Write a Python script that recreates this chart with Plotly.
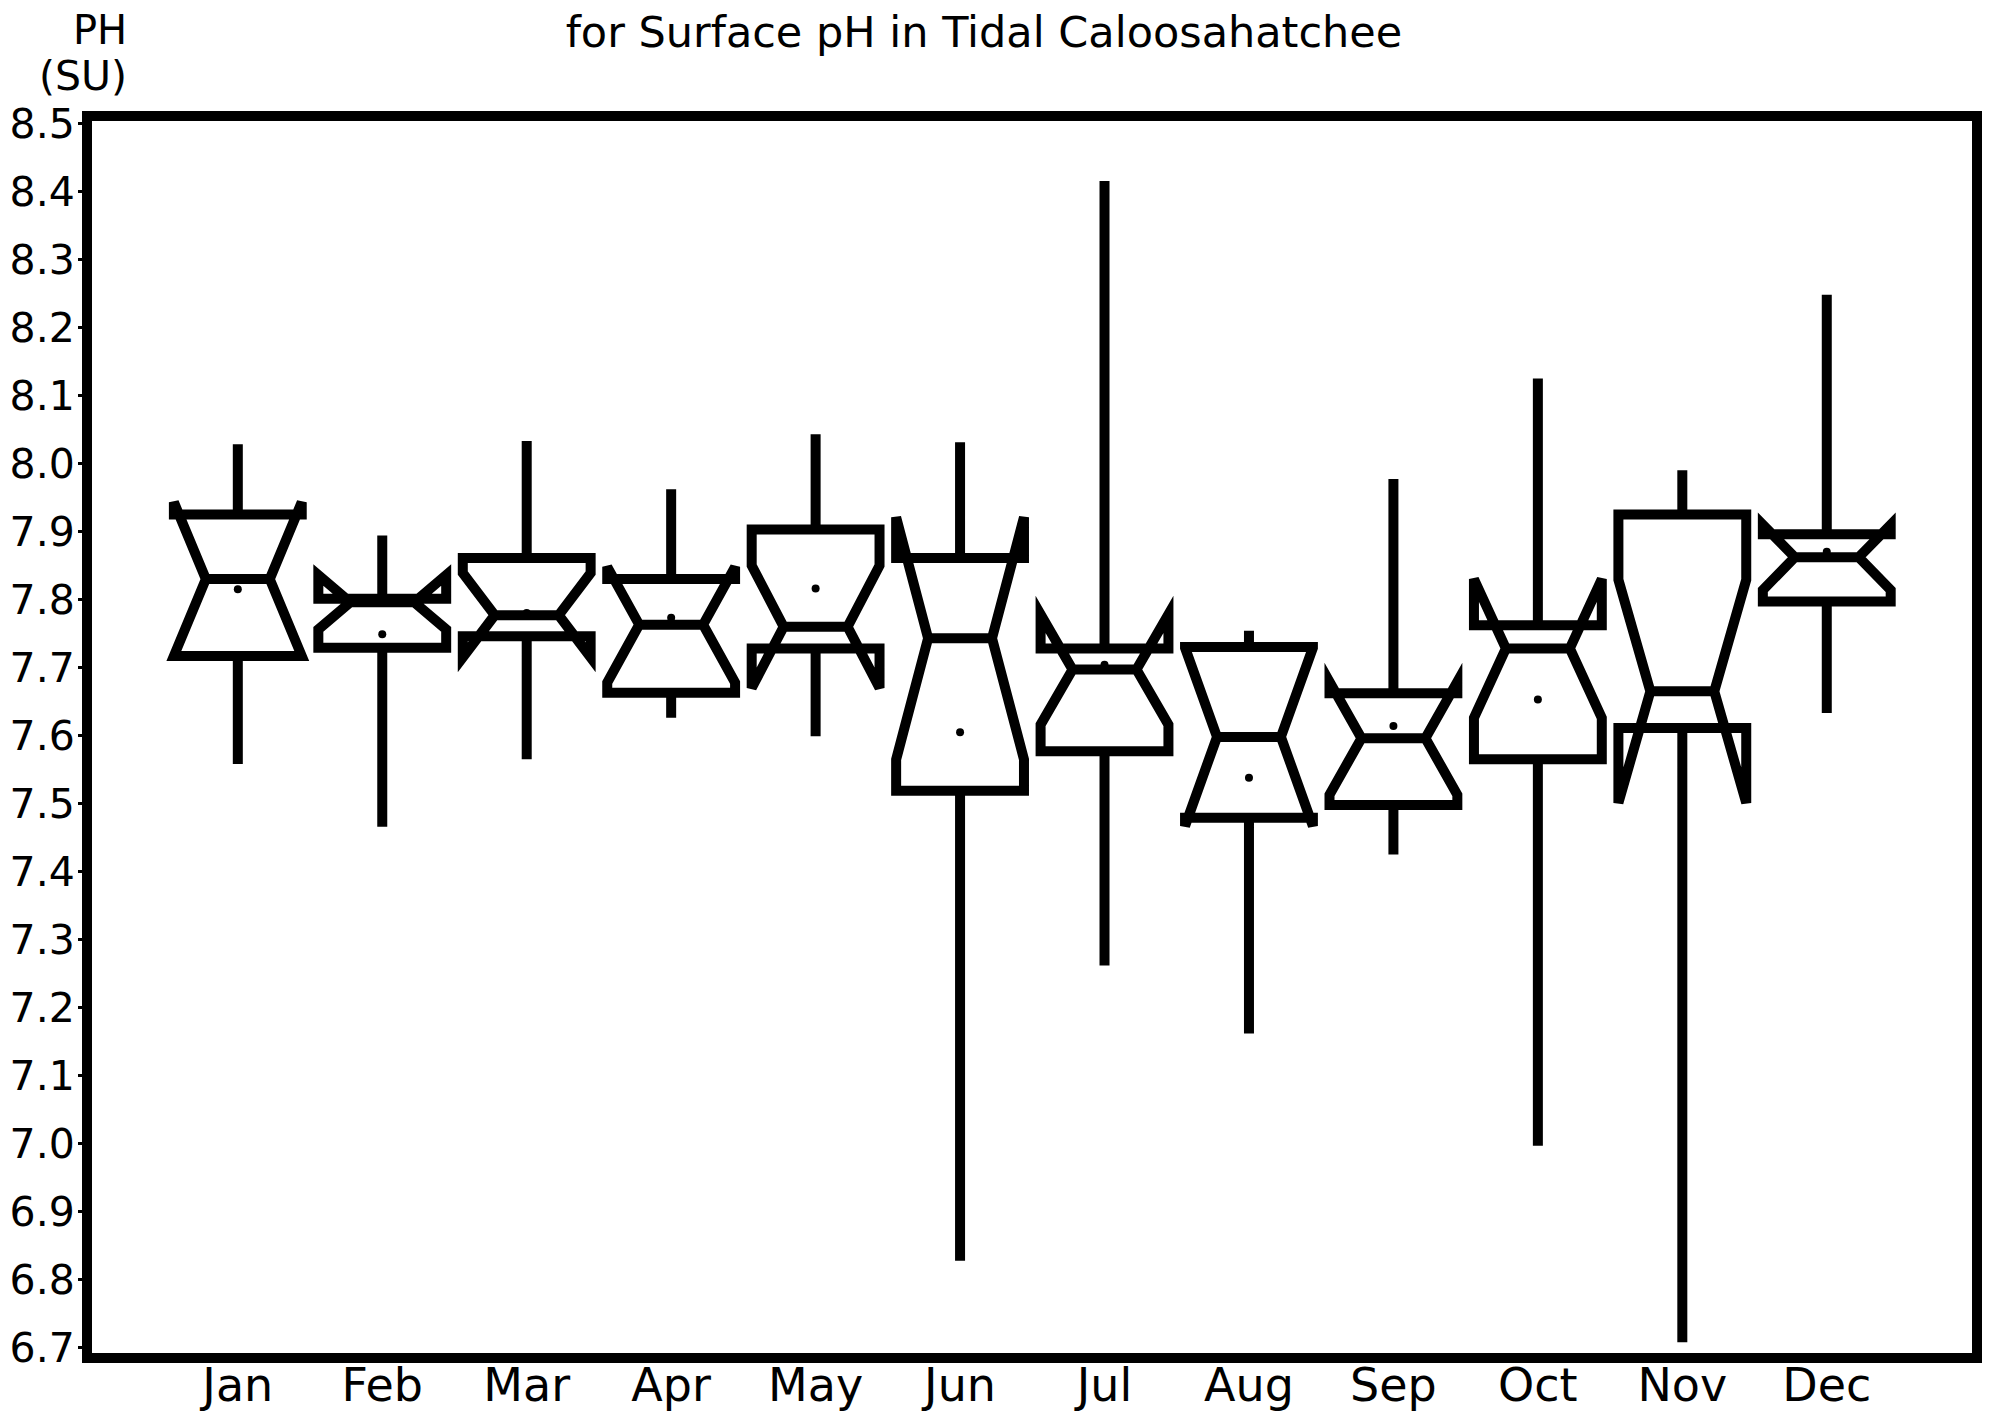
import plotly.graph_objects as go

months = ["Jan", "Feb", "Mar", "Apr", "May", "Jun", "Jul", "Aug", "Sep", "Oct", "Nov", "Dec"]
month_pos = [1, 2, 3, 4, 5, 6, 7, 8, 9, 10, 11, 12]

q1 = [7.717, 7.729, 7.746, 7.663, 7.728, 7.519, 7.577, 7.479, 7.498, 7.565, 7.611, 7.797]
median = [7.830, 7.796, 7.777, 7.763, 7.760, 7.743, 7.697, 7.598, 7.596, 7.728, 7.665, 7.862]
q3 = [7.925, 7.801, 7.861, 7.830, 7.903, 7.861, 7.728, 7.730, 7.662, 7.762, 7.925, 7.896]
notch_half = [0.113, 0.040, 0.062, 0.085, 0.090, 0.178, 0.081, 0.131, 0.083, 0.102, 0.164, 0.048]
whisker_low = [7.558, 7.466, 7.565, 7.626, 7.599, 6.828, 7.262, 7.162, 7.425, 6.997, 6.708, 7.633]
whisker_high = [8.028, 7.894, 8.033, 7.962, 8.043, 8.031, 8.415, 7.754, 7.977, 8.125, 7.990, 8.248]
mean = [7.815, 7.749, 7.780, 7.773, 7.816, 7.605, 7.704, 7.538, 7.614, 7.653, 7.664, 7.870]

y_ticks = [6.7, 6.8, 6.9, 7.0, 7.1, 7.2, 7.3, 7.4, 7.5, 7.6, 7.7, 7.8, 7.9, 8.0, 8.1, 8.2, 8.3, 8.4, 8.5]

FONT = "DejaVu Sans"
OFF = 8  # page body margin
W, H = 1994 - OFF, 1412 - OFF
ML, MT = 86.5 - OFF, 116 - OFF
MR = W - (1977 - OFF)
MB = H - (1358.5 - OFF)
PW, PH_ = W - ML - MR, H - MT - MB

fig = go.Figure()
fig.add_trace(go.Box(
    x=month_pos, q1=q1, median=median, q3=q3,
    lowerfence=whisker_low, upperfence=whisker_high,
    notchspan=notch_half, notched=True, notchwidth=0.25,
    width=0.885, whiskerwidth=0, boxpoints=False,
    line=dict(color="black", width=10), fillcolor="rgba(255,255,255,0)",
    showlegend=False, hoverinfo="skip",
))
fig.add_trace(go.Scatter(
    x=month_pos, y=mean, mode="markers",
    marker=dict(color="black", size=8), showlegend=False, hoverinfo="skip",
))

fig.update_layout(
    template="none",
    width=W, height=H,
    margin=dict(l=ML, r=MR, t=MT, b=MB, pad=0, autoexpand=False),
    paper_bgcolor="white", plot_bgcolor="white",
    font=dict(family=FONT, color="black"),
    title=dict(text="for Surface pH in Tidal Caloosahatchee", x=(984 - OFF) / W, xanchor="center",
               y=1 - (32 - OFF) / H, yanchor="middle", font=dict(size=43, family=FONT, color="black")),
    xaxis=dict(range=[-0.044, 13.04], tickvals=month_pos, ticktext=months, showgrid=False,
               zeroline=False, showline=False, ticks="", automargin=False, ticklabelstandoff=-4,
               tickfont=dict(size=46, family=FONT, color="black")),
    yaxis=dict(range=[6.685, 8.5107], tickvals=y_ticks, ticktext=[f"{v:.1f}" for v in y_ticks],
               showgrid=False, zeroline=False, showline=False, ticks="outside", ticklen=8,
               tickwidth=3, tickcolor="black", automargin=False, ticklabelstandoff=-5,
               tickfont=dict(size=41, family=FONT, color="black")),
    shapes=[dict(type="rect", xref="paper", yref="paper", x0=0, x1=1, y0=0, y1=1,
                 line=dict(color="black", width=10), layer="above")],
    annotations=[
        dict(text="PH", xref="paper", yref="paper", x=(129 - OFF - ML) / PW,
             y=(H - MB - (30 - OFF)) / PH_, xanchor="right", yanchor="middle",
             showarrow=False, font=dict(size=40, family=FONT, color="black")),
        dict(text="(SU)", xref="paper", yref="paper", x=(129 - OFF - ML) / PW,
             y=(H - MB - (76 - OFF)) / PH_, xanchor="right", yanchor="middle",
             showarrow=False, font=dict(size=41, family=FONT, color="black")),
    ],
)

fig.write_html("out.html")
